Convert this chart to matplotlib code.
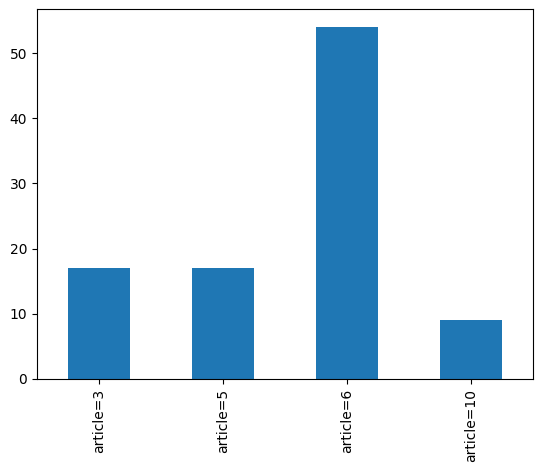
import pandas as pd
import matplotlib
matplotlib.use("Agg")
import matplotlib.pyplot as plt

categories = ["article=3", "article=5", "article=6", "article=10"]
counts = [17, 17, 54, 9]

s = pd.Series(counts, index=categories)

fig = plt.figure(figsize=(5.43, 4.72), dpi=100)
ax = fig.add_axes([37 / 543, (472 - 379) / 472, 496 / 543, 369.6 / 472])
s.plot(kind="bar", ax=ax)

fig.savefig("out.png", dpi=100)
